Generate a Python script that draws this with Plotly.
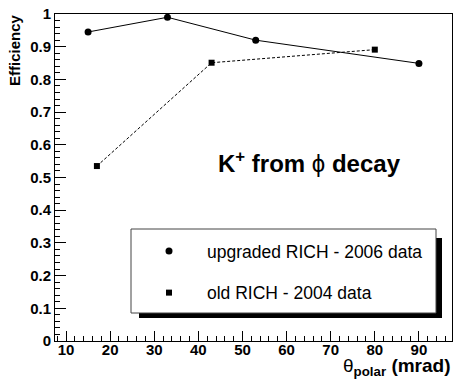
import plotly.graph_objects as go

# Data
theta_new = [15, 33, 53, 90]
eff_new = [0.945, 0.990, 0.920, 0.849]
theta_old = [17, 43, 80]
eff_old = [0.535, 0.851, 0.891]

name_new = "upgraded RICH - 2006 data"
name_old = "old RICH - 2004 data"

x_tickvals = [10, 20, 30, 40, 50, 60, 70, 80, 90]
x_ticklabels = ["10", "20", "30", "40", "50", "60", "70", "80", "90"]
y_tickvals = [0, 0.1, 0.2, 0.3, 0.4, 0.5, 0.6, 0.7, 0.8, 0.9, 1.0]
y_ticklabels = ["0", "0.1", "0.2", "0.3", "0.4", "0.5", "0.6", "0.7", "0.8", "0.9", "1"]

W, H = 453, 380
L, R, T, B = 55, 1, 14, 39
PW, PH = W - L - R, H - T - B

def px(x):
    return (x - L) / PW

def py(y):
    return (H - B - y) / PH

FONT = "Liberation Sans"

fig = go.Figure()
fig.add_trace(go.Scatter(x=theta_new, y=eff_new, mode="lines+markers",
                         line=dict(color="black", width=1),
                         marker=dict(symbol="circle", size=7, color="black"),
                         showlegend=False))
fig.add_trace(go.Scatter(x=theta_old, y=eff_old, mode="lines+markers",
                         line=dict(color="black", width=1, dash="3px,2px"),
                         marker=dict(symbol="square", size=6, color="black"),
                         showlegend=False))
# legend entries (markers only, as in the reference)
fig.add_trace(go.Scatter(x=[None], y=[None], mode="markers", name=name_new,
                         marker=dict(symbol="circle", size=7, color="black"),
                         legendgroup="a"))
fig.add_trace(go.Scatter(x=[None], y=[None], mode="markers", name=name_old,
                         marker=dict(symbol="square", size=6, color="black"),
                         legendgroup="b"))

axis_common = dict(showgrid=False, zeroline=False, showline=True, linecolor="black",
                   linewidth=1, mirror=True, ticks="inside", tickcolor="black",
                   tickfont=dict(family=FONT, size=15, color="black"))

fig.update_xaxes(range=[7.5, 97.5], tickmode="array", tickvals=x_tickvals,
                 ticktext=["<b>%s</b>" % t for t in x_ticklabels], ticklen=10,
                 ticklabelstandoff=-5,
                 minor=dict(ticks="inside", dtick=2, tick0=0, ticklen=5, tickcolor="black"),
                 **axis_common)
fig.update_yaxes(range=[0, 1], tickmode="array", tickvals=y_tickvals,
                 ticktext=["<b>%s</b>" % t for t in y_ticklabels], ticklen=11,
                 minor=dict(ticks="inside", dtick=0.02, tick0=0, ticklen=5, tickcolor="black"),
                 **axis_common)

shapes = [
    # legend shadow
    dict(type="rect", xref="paper", yref="paper", x0=px(139), x1=px(442), y0=py(318), y1=py(238),
         fillcolor="black", line=dict(width=0), layer="above"),
    # legend box
    dict(type="rect", xref="paper", yref="paper", x0=px(131), x1=px(436), y0=py(313), y1=py(229),
         fillcolor="white", line=dict(color="#444", width=1), layer="above"),
]

annotations = [
    dict(text="<b>K<sup>+</sup> from </b>ϕ<b> decay</b>", xref="paper", yref="paper",
         x=px(216), y=py(162), xanchor="left", yanchor="middle", showarrow=False,
         font=dict(family=FONT, size=24, color="black")),
    dict(text="<b>Efficiency</b>", xref="paper", yref="paper", x=px(15), y=py(12),
         xanchor="center", yanchor="top", textangle=-90, showarrow=False,
         font=dict(family=FONT, size=15, color="black")),
    dict(text="θ<sub><b>polar</b></sub> <b>(mrad)</b>", xref="paper", yref="paper",
         x=px(453), y=py(367), xanchor="right", yanchor="middle", showarrow=False,
         font=dict(family=FONT, size=19, color="black")),
]

fig.update_layout(
    width=W, height=H, margin=dict(l=L, r=R, t=T, b=B, pad=0),
    paper_bgcolor="white", plot_bgcolor="white",
    shapes=shapes, annotations=annotations,
    showlegend=True,
    legend=dict(x=px(131), y=py(233), xanchor="left", yanchor="top",
                bgcolor="rgba(0,0,0,0)", borderwidth=0, itemwidth=66,
                tracegroupgap=16, font=dict(family=FONT, size=17.5, color="black")),
)

fig.write_html("out.html", config={"displayModeBar": False},
               post_script="document.body.style.margin='0';document.body.style.overflow='hidden';")
